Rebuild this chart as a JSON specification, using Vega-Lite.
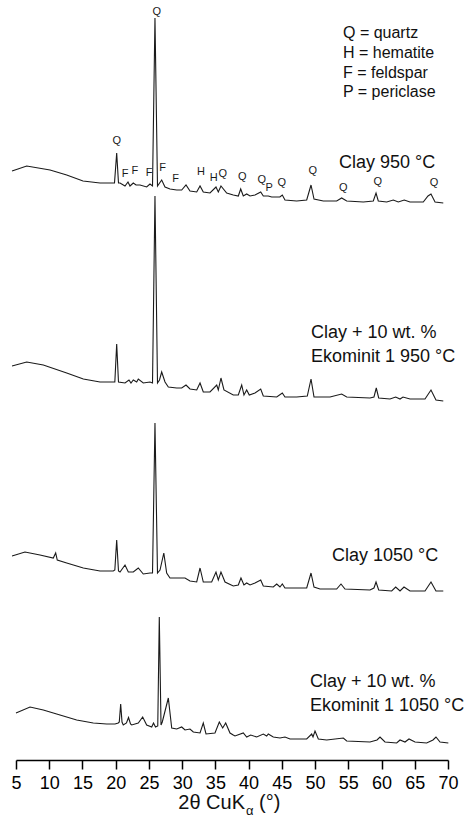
{
  "$schema": "https://vega.github.io/schema/vega-lite/v6.json",
  "autosize": "none",
  "width": 432,
  "height": 760,
  "padding": {"left": 16, "top": 0, "right": 17, "bottom": 67},
  "background": "white",
  "config": {"view": {"stroke": null}, "font": "Liberation Sans"},
  "datasets": {
    "traces": [
      {"sample": "Clay 950 °C", "x": 4.40, "y": 589}, {"sample": "Clay 950 °C", "x": 6.61, "y": 594}, {"sample": "Clay 950 °C", "x": 10.12, "y": 590}, {"sample": "Clay 950 °C", "x": 12.63, "y": 585}, {"sample": "Clay 950 °C", "x": 15.08, "y": 579}, {"sample": "Clay 950 °C", "x": 17.64, "y": 577}, {"sample": "Clay 950 °C", "x": 19.40, "y": 577}, {"sample": "Clay 950 °C", "x": 19.82, "y": 577}, {"sample": "Clay 950 °C", "x": 20.15, "y": 607}, {"sample": "Clay 950 °C", "x": 20.42, "y": 577}, {"sample": "Clay 950 °C", "x": 20.65, "y": 577}, {"sample": "Clay 950 °C", "x": 21.40, "y": 574}, {"sample": "Clay 950 °C", "x": 21.85, "y": 578}, {"sample": "Clay 950 °C", "x": 22.15, "y": 574}, {"sample": "Clay 950 °C", "x": 22.65, "y": 577}, {"sample": "Clay 950 °C", "x": 23.06, "y": 575}, {"sample": "Clay 950 °C", "x": 23.66, "y": 575}, {"sample": "Clay 950 °C", "x": 24.66, "y": 573}, {"sample": "Clay 950 °C", "x": 25.16, "y": 576}, {"sample": "Clay 950 °C", "x": 25.54, "y": 574}, {"sample": "Clay 950 °C", "x": 25.91, "y": 742}, {"sample": "Clay 950 °C", "x": 26.29, "y": 574}, {"sample": "Clay 950 °C", "x": 26.92, "y": 580}, {"sample": "Clay 950 °C", "x": 27.42, "y": 573}, {"sample": "Clay 950 °C", "x": 28.17, "y": 571}, {"sample": "Clay 950 °C", "x": 29.18, "y": 570}, {"sample": "Clay 950 °C", "x": 29.93, "y": 570}, {"sample": "Clay 950 °C", "x": 30.58, "y": 575}, {"sample": "Clay 950 °C", "x": 31.18, "y": 569}, {"sample": "Clay 950 °C", "x": 32.19, "y": 568}, {"sample": "Clay 950 °C", "x": 32.69, "y": 574}, {"sample": "Clay 950 °C", "x": 33.18, "y": 568}, {"sample": "Clay 950 °C", "x": 34.19, "y": 567}, {"sample": "Clay 950 °C", "x": 35.09, "y": 573}, {"sample": "Clay 950 °C", "x": 35.44, "y": 568}, {"sample": "Clay 950 °C", "x": 35.84, "y": 574}, {"sample": "Clay 950 °C", "x": 36.70, "y": 567}, {"sample": "Clay 950 °C", "x": 37.69, "y": 565}, {"sample": "Clay 950 °C", "x": 38.45, "y": 564}, {"sample": "Clay 950 °C", "x": 38.81, "y": 571}, {"sample": "Clay 950 °C", "x": 39.20, "y": 564}, {"sample": "Clay 950 °C", "x": 39.71, "y": 566}, {"sample": "Clay 950 °C", "x": 40.21, "y": 564}, {"sample": "Clay 950 °C", "x": 40.96, "y": 565}, {"sample": "Clay 950 °C", "x": 41.82, "y": 568}, {"sample": "Clay 950 °C", "x": 42.21, "y": 564}, {"sample": "Clay 950 °C", "x": 42.96, "y": 564}, {"sample": "Clay 950 °C", "x": 43.47, "y": 563}, {"sample": "Clay 950 °C", "x": 44.70, "y": 563}, {"sample": "Clay 950 °C", "x": 45.07, "y": 565}, {"sample": "Clay 950 °C", "x": 45.47, "y": 560}, {"sample": "Clay 950 °C", "x": 47.23, "y": 559}, {"sample": "Clay 950 °C", "x": 48.74, "y": 560}, {"sample": "Clay 950 °C", "x": 49.39, "y": 575}, {"sample": "Clay 950 °C", "x": 49.84, "y": 561}, {"sample": "Clay 950 °C", "x": 51.24, "y": 559}, {"sample": "Clay 950 °C", "x": 53.25, "y": 559}, {"sample": "Clay 950 °C", "x": 54.00, "y": 562}, {"sample": "Clay 950 °C", "x": 54.76, "y": 559}, {"sample": "Clay 950 °C", "x": 57.26, "y": 558}, {"sample": "Clay 950 °C", "x": 58.76, "y": 559}, {"sample": "Clay 950 °C", "x": 59.17, "y": 567}, {"sample": "Clay 950 °C", "x": 59.51, "y": 559}, {"sample": "Clay 950 °C", "x": 60.78, "y": 558}, {"sample": "Clay 950 °C", "x": 61.77, "y": 560}, {"sample": "Clay 950 °C", "x": 62.52, "y": 558}, {"sample": "Clay 950 °C", "x": 63.42, "y": 560}, {"sample": "Clay 950 °C", "x": 64.28, "y": 558}, {"sample": "Clay 950 °C", "x": 66.28, "y": 558}, {"sample": "Clay 950 °C", "x": 66.99, "y": 564}, {"sample": "Clay 950 °C", "x": 67.44, "y": 566}, {"sample": "Clay 950 °C", "x": 68.05, "y": 558}, {"sample": "Clay 950 °C", "x": 69.29, "y": 557},

      {"sample": "Ekominit 950 °C", "x": 4.40, "y": 394}, {"sample": "Ekominit 950 °C", "x": 6.61, "y": 398}, {"sample": "Ekominit 950 °C", "x": 9.11, "y": 395}, {"sample": "Ekominit 950 °C", "x": 12.63, "y": 387}, {"sample": "Ekominit 950 °C", "x": 15.13, "y": 381}, {"sample": "Ekominit 950 °C", "x": 17.64, "y": 378}, {"sample": "Ekominit 950 °C", "x": 19.64, "y": 378}, {"sample": "Ekominit 950 °C", "x": 19.87, "y": 378}, {"sample": "Ekominit 950 °C", "x": 20.15, "y": 416}, {"sample": "Ekominit 950 °C", "x": 20.42, "y": 378}, {"sample": "Ekominit 950 °C", "x": 21.40, "y": 377}, {"sample": "Ekominit 950 °C", "x": 22.00, "y": 380}, {"sample": "Ekominit 950 °C", "x": 22.30, "y": 377}, {"sample": "Ekominit 950 °C", "x": 22.65, "y": 380}, {"sample": "Ekominit 950 °C", "x": 23.16, "y": 378}, {"sample": "Ekominit 950 °C", "x": 23.40, "y": 381}, {"sample": "Ekominit 950 °C", "x": 24.15, "y": 377}, {"sample": "Ekominit 950 °C", "x": 25.16, "y": 378}, {"sample": "Ekominit 950 °C", "x": 25.54, "y": 377}, {"sample": "Ekominit 950 °C", "x": 25.91, "y": 564}, {"sample": "Ekominit 950 °C", "x": 26.29, "y": 377}, {"sample": "Ekominit 950 °C", "x": 26.59, "y": 380}, {"sample": "Ekominit 950 °C", "x": 26.92, "y": 388}, {"sample": "Ekominit 950 °C", "x": 27.42, "y": 378}, {"sample": "Ekominit 950 °C", "x": 27.92, "y": 373}, {"sample": "Ekominit 950 °C", "x": 29.18, "y": 372}, {"sample": "Ekominit 950 °C", "x": 29.93, "y": 372}, {"sample": "Ekominit 950 °C", "x": 30.58, "y": 375}, {"sample": "Ekominit 950 °C", "x": 31.18, "y": 371}, {"sample": "Ekominit 950 °C", "x": 32.19, "y": 370}, {"sample": "Ekominit 950 °C", "x": 32.69, "y": 377}, {"sample": "Ekominit 950 °C", "x": 33.18, "y": 368}, {"sample": "Ekominit 950 °C", "x": 34.19, "y": 368}, {"sample": "Ekominit 950 °C", "x": 35.20, "y": 375}, {"sample": "Ekominit 950 °C", "x": 35.44, "y": 370}, {"sample": "Ekominit 950 °C", "x": 35.84, "y": 382}, {"sample": "Ekominit 950 °C", "x": 36.29, "y": 370}, {"sample": "Ekominit 950 °C", "x": 37.69, "y": 365}, {"sample": "Ekominit 950 °C", "x": 38.45, "y": 365}, {"sample": "Ekominit 950 °C", "x": 38.96, "y": 375}, {"sample": "Ekominit 950 °C", "x": 39.30, "y": 365}, {"sample": "Ekominit 950 °C", "x": 39.71, "y": 370}, {"sample": "Ekominit 950 °C", "x": 40.10, "y": 365}, {"sample": "Ekominit 950 °C", "x": 40.96, "y": 367}, {"sample": "Ekominit 950 °C", "x": 41.82, "y": 371}, {"sample": "Ekominit 950 °C", "x": 42.21, "y": 364}, {"sample": "Ekominit 950 °C", "x": 44.23, "y": 363}, {"sample": "Ekominit 950 °C", "x": 45.07, "y": 367}, {"sample": "Ekominit 950 °C", "x": 45.47, "y": 363}, {"sample": "Ekominit 950 °C", "x": 47.23, "y": 363}, {"sample": "Ekominit 950 °C", "x": 48.83, "y": 364}, {"sample": "Ekominit 950 °C", "x": 49.39, "y": 381}, {"sample": "Ekominit 950 °C", "x": 49.84, "y": 363}, {"sample": "Ekominit 950 °C", "x": 52.25, "y": 363}, {"sample": "Ekominit 950 °C", "x": 54.00, "y": 366}, {"sample": "Ekominit 950 °C", "x": 54.76, "y": 363}, {"sample": "Ekominit 950 °C", "x": 58.26, "y": 362}, {"sample": "Ekominit 950 °C", "x": 58.86, "y": 363}, {"sample": "Ekominit 950 °C", "x": 59.21, "y": 372}, {"sample": "Ekominit 950 °C", "x": 59.57, "y": 362}, {"sample": "Ekominit 950 °C", "x": 61.27, "y": 361}, {"sample": "Ekominit 950 °C", "x": 62.13, "y": 363}, {"sample": "Ekominit 950 °C", "x": 62.78, "y": 361}, {"sample": "Ekominit 950 °C", "x": 63.23, "y": 363}, {"sample": "Ekominit 950 °C", "x": 64.28, "y": 361}, {"sample": "Ekominit 950 °C", "x": 66.54, "y": 361}, {"sample": "Ekominit 950 °C", "x": 67.44, "y": 370}, {"sample": "Ekominit 950 °C", "x": 68.19, "y": 360}, {"sample": "Ekominit 950 °C", "x": 69.29, "y": 359},

      {"sample": "Clay 1050 °C", "x": 4.40, "y": 204}, {"sample": "Clay 1050 °C", "x": 6.35, "y": 208}, {"sample": "Clay 1050 °C", "x": 8.61, "y": 205}, {"sample": "Clay 1050 °C", "x": 10.61, "y": 202}, {"sample": "Clay 1050 °C", "x": 10.97, "y": 207}, {"sample": "Clay 1050 °C", "x": 11.21, "y": 200}, {"sample": "Clay 1050 °C", "x": 12.63, "y": 197}, {"sample": "Clay 1050 °C", "x": 15.13, "y": 192}, {"sample": "Clay 1050 °C", "x": 17.64, "y": 189}, {"sample": "Clay 1050 °C", "x": 19.64, "y": 189}, {"sample": "Clay 1050 °C", "x": 19.87, "y": 190}, {"sample": "Clay 1050 °C", "x": 20.15, "y": 220}, {"sample": "Clay 1050 °C", "x": 20.42, "y": 189}, {"sample": "Clay 1050 °C", "x": 20.65, "y": 188}, {"sample": "Clay 1050 °C", "x": 21.40, "y": 195}, {"sample": "Clay 1050 °C", "x": 21.90, "y": 188}, {"sample": "Clay 1050 °C", "x": 22.65, "y": 188}, {"sample": "Clay 1050 °C", "x": 23.40, "y": 192}, {"sample": "Clay 1050 °C", "x": 24.15, "y": 186}, {"sample": "Clay 1050 °C", "x": 25.16, "y": 187}, {"sample": "Clay 1050 °C", "x": 25.54, "y": 187}, {"sample": "Clay 1050 °C", "x": 25.91, "y": 337}, {"sample": "Clay 1050 °C", "x": 26.29, "y": 187}, {"sample": "Clay 1050 °C", "x": 26.67, "y": 190}, {"sample": "Clay 1050 °C", "x": 27.24, "y": 207}, {"sample": "Clay 1050 °C", "x": 27.67, "y": 187}, {"sample": "Clay 1050 °C", "x": 28.17, "y": 182}, {"sample": "Clay 1050 °C", "x": 29.68, "y": 182}, {"sample": "Clay 1050 °C", "x": 30.43, "y": 182}, {"sample": "Clay 1050 °C", "x": 31.18, "y": 179}, {"sample": "Clay 1050 °C", "x": 32.19, "y": 178}, {"sample": "Clay 1050 °C", "x": 32.69, "y": 192}, {"sample": "Clay 1050 °C", "x": 33.18, "y": 178}, {"sample": "Clay 1050 °C", "x": 34.44, "y": 178}, {"sample": "Clay 1050 °C", "x": 35.09, "y": 188}, {"sample": "Clay 1050 °C", "x": 35.44, "y": 180}, {"sample": "Clay 1050 °C", "x": 35.84, "y": 188}, {"sample": "Clay 1050 °C", "x": 36.45, "y": 178}, {"sample": "Clay 1050 °C", "x": 37.69, "y": 174}, {"sample": "Clay 1050 °C", "x": 38.45, "y": 175}, {"sample": "Clay 1050 °C", "x": 38.85, "y": 182}, {"sample": "Clay 1050 °C", "x": 39.30, "y": 175}, {"sample": "Clay 1050 °C", "x": 39.71, "y": 177}, {"sample": "Clay 1050 °C", "x": 40.21, "y": 175}, {"sample": "Clay 1050 °C", "x": 40.96, "y": 177}, {"sample": "Clay 1050 °C", "x": 41.82, "y": 180}, {"sample": "Clay 1050 °C", "x": 42.21, "y": 174}, {"sample": "Clay 1050 °C", "x": 43.71, "y": 173}, {"sample": "Clay 1050 °C", "x": 44.23, "y": 176}, {"sample": "Clay 1050 °C", "x": 44.72, "y": 173}, {"sample": "Clay 1050 °C", "x": 45.07, "y": 176}, {"sample": "Clay 1050 °C", "x": 45.47, "y": 172}, {"sample": "Clay 1050 °C", "x": 48.74, "y": 172}, {"sample": "Clay 1050 °C", "x": 49.39, "y": 187}, {"sample": "Clay 1050 °C", "x": 49.84, "y": 173}, {"sample": "Clay 1050 °C", "x": 50.74, "y": 171}, {"sample": "Clay 1050 °C", "x": 53.25, "y": 171}, {"sample": "Clay 1050 °C", "x": 53.90, "y": 176}, {"sample": "Clay 1050 °C", "x": 54.50, "y": 171}, {"sample": "Clay 1050 °C", "x": 58.26, "y": 170}, {"sample": "Clay 1050 °C", "x": 58.86, "y": 172}, {"sample": "Clay 1050 °C", "x": 59.17, "y": 178}, {"sample": "Clay 1050 °C", "x": 59.57, "y": 170}, {"sample": "Clay 1050 °C", "x": 61.53, "y": 169}, {"sample": "Clay 1050 °C", "x": 62.13, "y": 173}, {"sample": "Clay 1050 °C", "x": 62.78, "y": 169}, {"sample": "Clay 1050 °C", "x": 63.38, "y": 173}, {"sample": "Clay 1050 °C", "x": 64.28, "y": 169}, {"sample": "Clay 1050 °C", "x": 66.54, "y": 169}, {"sample": "Clay 1050 °C", "x": 67.44, "y": 178}, {"sample": "Clay 1050 °C", "x": 68.19, "y": 169}, {"sample": "Clay 1050 °C", "x": 69.29, "y": 169},

      {"sample": "Ekominit 1050 °C", "x": 5.00, "y": 47}, {"sample": "Ekominit 1050 °C", "x": 7.11, "y": 53}, {"sample": "Ekominit 1050 °C", "x": 9.11, "y": 50}, {"sample": "Ekominit 1050 °C", "x": 11.62, "y": 45}, {"sample": "Ekominit 1050 °C", "x": 14.13, "y": 40}, {"sample": "Ekominit 1050 °C", "x": 16.63, "y": 37}, {"sample": "Ekominit 1050 °C", "x": 18.65, "y": 36}, {"sample": "Ekominit 1050 °C", "x": 19.90, "y": 36}, {"sample": "Ekominit 1050 °C", "x": 20.39, "y": 37}, {"sample": "Ekominit 1050 °C", "x": 20.54, "y": 38}, {"sample": "Ekominit 1050 °C", "x": 20.75, "y": 56}, {"sample": "Ekominit 1050 °C", "x": 20.95, "y": 38}, {"sample": "Ekominit 1050 °C", "x": 21.14, "y": 35}, {"sample": "Ekominit 1050 °C", "x": 21.62, "y": 37}, {"sample": "Ekominit 1050 °C", "x": 21.93, "y": 42.5}, {"sample": "Ekominit 1050 °C", "x": 22.23, "y": 36}, {"sample": "Ekominit 1050 °C", "x": 22.41, "y": 35}, {"sample": "Ekominit 1050 °C", "x": 23.40, "y": 37}, {"sample": "Ekominit 1050 °C", "x": 24.06, "y": 43}, {"sample": "Ekominit 1050 °C", "x": 24.66, "y": 35}, {"sample": "Ekominit 1050 °C", "x": 25.42, "y": 33}, {"sample": "Ekominit 1050 °C", "x": 25.69, "y": 37}, {"sample": "Ekominit 1050 °C", "x": 25.99, "y": 33}, {"sample": "Ekominit 1050 °C", "x": 26.33, "y": 34}, {"sample": "Ekominit 1050 °C", "x": 26.56, "y": 143}, {"sample": "Ekominit 1050 °C", "x": 26.82, "y": 35}, {"sample": "Ekominit 1050 °C", "x": 27.01, "y": 38}, {"sample": "Ekominit 1050 °C", "x": 27.92, "y": 62}, {"sample": "Ekominit 1050 °C", "x": 28.43, "y": 32}, {"sample": "Ekominit 1050 °C", "x": 29.18, "y": 31}, {"sample": "Ekominit 1050 °C", "x": 29.93, "y": 33}, {"sample": "Ekominit 1050 °C", "x": 30.43, "y": 30}, {"sample": "Ekominit 1050 °C", "x": 31.18, "y": 31}, {"sample": "Ekominit 1050 °C", "x": 31.68, "y": 28}, {"sample": "Ekominit 1050 °C", "x": 32.69, "y": 27}, {"sample": "Ekominit 1050 °C", "x": 33.18, "y": 37}, {"sample": "Ekominit 1050 °C", "x": 33.59, "y": 26}, {"sample": "Ekominit 1050 °C", "x": 34.94, "y": 27}, {"sample": "Ekominit 1050 °C", "x": 35.59, "y": 38}, {"sample": "Ekominit 1050 °C", "x": 36.10, "y": 32}, {"sample": "Ekominit 1050 °C", "x": 36.55, "y": 37}, {"sample": "Ekominit 1050 °C", "x": 37.20, "y": 27}, {"sample": "Ekominit 1050 °C", "x": 37.69, "y": 25}, {"sample": "Ekominit 1050 °C", "x": 37.95, "y": 24}, {"sample": "Ekominit 1050 °C", "x": 39.20, "y": 27}, {"sample": "Ekominit 1050 °C", "x": 39.71, "y": 23}, {"sample": "Ekominit 1050 °C", "x": 40.31, "y": 25}, {"sample": "Ekominit 1050 °C", "x": 41.22, "y": 23}, {"sample": "Ekominit 1050 °C", "x": 42.21, "y": 26}, {"sample": "Ekominit 1050 °C", "x": 42.72, "y": 24}, {"sample": "Ekominit 1050 °C", "x": 42.96, "y": 26}, {"sample": "Ekominit 1050 °C", "x": 43.71, "y": 23}, {"sample": "Ekominit 1050 °C", "x": 44.72, "y": 22}, {"sample": "Ekominit 1050 °C", "x": 45.47, "y": 23}, {"sample": "Ekominit 1050 °C", "x": 46.23, "y": 21}, {"sample": "Ekominit 1050 °C", "x": 48.74, "y": 21}, {"sample": "Ekominit 1050 °C", "x": 49.49, "y": 26}, {"sample": "Ekominit 1050 °C", "x": 49.69, "y": 23}, {"sample": "Ekominit 1050 °C", "x": 49.99, "y": 29}, {"sample": "Ekominit 1050 °C", "x": 50.49, "y": 21}, {"sample": "Ekominit 1050 °C", "x": 51.75, "y": 20}, {"sample": "Ekominit 1050 °C", "x": 54.25, "y": 22}, {"sample": "Ekominit 1050 °C", "x": 54.76, "y": 19}, {"sample": "Ekominit 1050 °C", "x": 58.26, "y": 18}, {"sample": "Ekominit 1050 °C", "x": 59.32, "y": 20}, {"sample": "Ekominit 1050 °C", "x": 59.77, "y": 23}, {"sample": "Ekominit 1050 °C", "x": 60.52, "y": 18}, {"sample": "Ekominit 1050 °C", "x": 62.28, "y": 17}, {"sample": "Ekominit 1050 °C", "x": 62.78, "y": 20}, {"sample": "Ekominit 1050 °C", "x": 63.53, "y": 18}, {"sample": "Ekominit 1050 °C", "x": 64.13, "y": 21}, {"sample": "Ekominit 1050 °C", "x": 65.04, "y": 18}, {"sample": "Ekominit 1050 °C", "x": 66.79, "y": 17}, {"sample": "Ekominit 1050 °C", "x": 67.74, "y": 20}, {"sample": "Ekominit 1050 °C", "x": 68.19, "y": 23}, {"sample": "Ekominit 1050 °C", "x": 68.80, "y": 18}, {"sample": "Ekominit 1050 °C", "x": 70.05, "y": 17}
    ],
    "peaks": [
      {"x": 20.15, "y": 619, "text": "Q"}, {"x": 21.40, "y": 586, "text": "F"}, {"x": 22.90, "y": 589, "text": "F"}, {"x": 25.01, "y": 587, "text": "F"}, {"x": 26.2, "y": 748, "text": "Q"}, {"x": 27.07, "y": 592, "text": "F"}, {"x": 29.03, "y": 581, "text": "F"}, {"x": 32.84, "y": 588, "text": "H"}, {"x": 34.75, "y": 582, "text": "H"}, {"x": 36.10, "y": 586, "text": "Q"}, {"x": 39.05, "y": 583, "text": "Q"}, {"x": 41.97, "y": 580, "text": "Q"}, {"x": 43.11, "y": 572, "text": "P"}, {"x": 44.98, "y": 577, "text": "Q"}, {"x": 49.64, "y": 589, "text": "Q"}, {"x": 54.25, "y": 572, "text": "Q"}, {"x": 59.42, "y": 578, "text": "Q"}, {"x": 67.89, "y": 577, "text": "Q"}
    ],
    "names": [
      {"x": 53.60, "y": 597, "text": "Clay 950 °C"},
      {"x": 49.39, "y": 427, "text": "Clay + 10 wt. %"},
      {"x": 49.39, "y": 403, "text": "Ekominit 1 950 °C"},
      {"x": 52.55, "y": 204, "text": "Clay 1050 °C"},
      {"x": 49.24, "y": 78, "text": "Clay + 10 wt. %"},
      {"x": 49.24, "y": 54, "text": "Ekominit 1 1050 °C"}
    ],
    "legend": [
      {"x": 54.2, "y": 727, "text": "Q = quartz"},
      {"x": 54.2, "y": 707, "text": "H = hematite"},
      {"x": 54.2, "y": 687, "text": "F = feldspar"},
      {"x": 54.2, "y": 668, "text": "P = periclase"}
    ],
    "title_left": [
      {"x": 39.46, "y": -43, "text": "2θ CuK"}
    ],
    "title_right": [
      {"x": 41.56, "y": -43, "text": "(°)"}
    ],
    "title_sub": [
      {"x": 39.61, "y": -51, "text": "α"}
    ]
  },
  "encoding": {
    "x": {
      "field": "x", "type": "quantitative",
      "scale": {"domain": [5, 70], "nice": false, "zero": false},
      "axis": {
        "values": [5, 10, 15, 20, 25, 30, 35, 40, 45, 50, 55, 60, 65, 70],
        "title": null, "grid": false,
        "domainColor": "#000", "domainWidth": 1.5,
        "tickColor": "#000", "tickWidth": 1.5, "tickSize": 9,
        "labelFont": "Liberation Sans", "labelFontSize": 18, "labelColor": "#000",
        "labelPadding": 5, "labelFlush": false, "labelOverlap": false
      }
    },
    "y": {
      "field": "y", "type": "quantitative",
      "scale": {"domain": [0, 760], "nice": false, "zero": false},
      "axis": null
    }
  },
  "layer": [
    {
      "data": {"name": "traces"},
      "mark": {"type": "line", "color": "#1a1a1a", "strokeWidth": 1.1, "interpolate": "linear"},
      "encoding": {"detail": {"field": "sample", "type": "nominal"}}
    },
    {
      "data": {"name": "peaks"},
      "mark": {"type": "text", "fontSize": 11, "color": "#1a1a1a", "align": "center", "baseline": "middle", "font": "Liberation Sans"},
      "encoding": {"text": {"field": "text", "type": "nominal"}}
    },
    {
      "data": {"name": "names"},
      "mark": {"type": "text", "fontSize": 18, "color": "#111", "align": "left", "baseline": "middle", "font": "Liberation Sans"},
      "encoding": {"text": {"field": "text", "type": "nominal"}}
    },
    {
      "data": {"name": "legend"},
      "mark": {"type": "text", "fontSize": 16, "color": "#111", "align": "left", "baseline": "middle", "font": "Liberation Sans"},
      "encoding": {"text": {"field": "text", "type": "nominal"}}
    },
    {
      "data": {"name": "title_left"},
      "mark": {"type": "text", "fontSize": 20, "color": "#111", "align": "right", "baseline": "middle", "font": "Liberation Sans"},
      "encoding": {"text": {"field": "text", "type": "nominal"}}
    },
    {
      "data": {"name": "title_right"},
      "mark": {"type": "text", "fontSize": 20, "color": "#111", "align": "left", "baseline": "middle", "font": "Liberation Sans"},
      "encoding": {"text": {"field": "text", "type": "nominal"}}
    },
    {
      "data": {"name": "title_sub"},
      "mark": {"type": "text", "fontSize": 13, "color": "#111", "align": "left", "baseline": "middle", "font": "Liberation Sans"},
      "encoding": {"text": {"field": "text", "type": "nominal"}}
    }
  ]
}
